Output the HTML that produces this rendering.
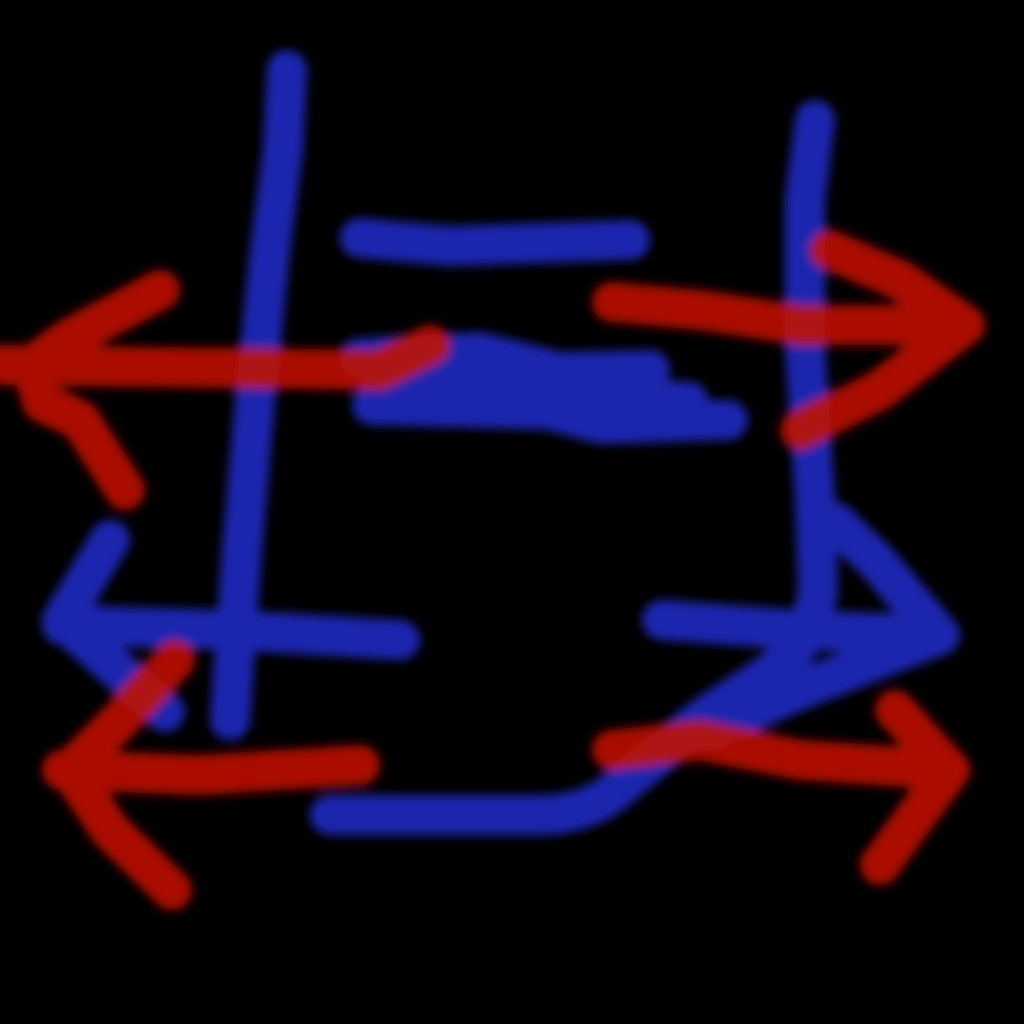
<!DOCTYPE html>
<html>
<head>
<meta charset="utf-8">
<style>
  html,body{margin:0;padding:0;background:#000;}
  svg{display:block;}
</style>
</head>
<body>
<svg width="1024" height="1024" viewBox="0 0 1024 1024">
  <defs>
    <filter id="soft" x="-10%" y="-10%" width="120%" height="120%">
      <feGaussianBlur stdDeviation="5"/>
    </filter>
  </defs>
  <rect width="1024" height="1024" fill="#000"/>
  <g filter="url(#soft)" fill="none" stroke-linecap="round" stroke-linejoin="round" stroke-width="40">
    <g stroke="#2128bd" opacity="0.92">
      <path d="M287,70 L283,150 L270,250 L255,400 L242,550 L230,720"/>
      <path d="M360,238 L450,246 L630,240"/>
      <path d="M360,358 L480,352 L560,372 L650,370"/>
      <path d="M372,405 L550,410 L600,424 L728,420"/>
      <path d="M380,385 L560,392 L690,400" stroke-width="36"/>
      <path d="M815,120 L805,200 L805,350 L815,500 L818,590 Q810,650 760,680 L700,720 L610,795 Q580,815 540,815 L330,815"/>
      <path d="M110,540 L62,620 L165,712"/>
      <path d="M62,625 L230,630 L400,640"/>
      <path d="M662,620 L800,630 L940,635"/>
      <path d="M835,522 L875,560 L940,635 L800,690 L710,730"/>
    </g>
    <g stroke="#c81200" opacity="0.85">
      <path d="M0,365 L380,370 L430,345"/>
      <path d="M160,290 L70,338 L32,365 L42,402 L80,420 L125,490"/>
      <path d="M612,302 L700,310 L800,325 L962,325"/>
      <path d="M830,250 L900,280 L965,325 L880,390 L800,430"/>
      <path d="M62,770 L200,775 L360,765"/>
      <path d="M175,660 L120,720 L70,770 L110,830 L172,890"/>
      <path d="M612,750 L700,740 L800,760 L950,770"/>
      <path d="M895,710 L950,770 L880,865"/>
    </g>
  </g>
</svg>
</body>
</html>
